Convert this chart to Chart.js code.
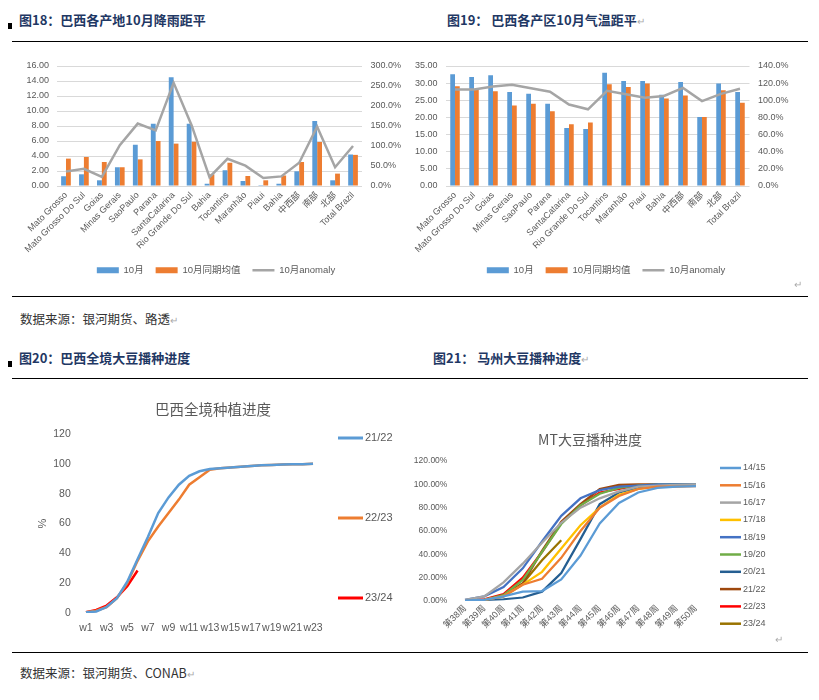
<!DOCTYPE html>
<html>
<head>
<meta charset="utf-8">
<script src="https://cdn.jsdelivr.net/npm/chart.js@4.4.0/dist/chart.umd.min.js"></script>
<style>
  body { margin: 0; width: 819px; height: 700px; background: #fff; position: relative; overflow: hidden; font-family: 'Noto Sans CJK SC', sans-serif; }
  .abs { position: absolute; white-space: nowrap; }
  .hd { font-size: 13px; font-weight: 700; color: #1F3864; line-height: 16px; }
  .src { font-size: 12.5px; color: #333; line-height: 16px; }
  .pm { color: #aaa; font-size: 10px; font-weight: 400; }
  .rule { position: absolute; left: 12px; width: 796px; height: 1px; background: #000; }
  .sq { position: absolute; left: 8px; width: 4px; height: 6px; background: #000; }
  canvas { position: absolute; }
</style>
</head>
<body>
<div class="sq" style="top:23px"></div>
<div class="abs hd" style="left:19px;top:12px">图18：巴西各产地10月降雨距平</div>
<div class="abs hd" style="left:447px;top:12px">图19： 巴西各产区10月气温距平<span class="pm">↵</span></div>
<div class="rule" style="top:41px"></div>

<canvas id="c18" width="410" height="235" style="left:0;top:50px"></canvas>
<canvas id="c19" width="392" height="235" style="left:410px;top:50px"></canvas>
<div class="abs pm" style="left:794px;top:276px">↵</div>

<div class="rule" style="top:296px"></div>
<div class="abs src" style="left:20px;top:311px">数据来源：银河期货、路透<span class="pm">↵</span></div>

<div class="sq" style="top:361px"></div>
<div class="abs hd" style="left:19px;top:350px">图20：巴西全境大豆播种进度</div>
<div class="abs hd" style="left:433px;top:350px">图21： 马州大豆播种进度<span class="pm">↵</span></div>
<div class="rule" style="top:378px"></div>

<canvas id="c20" width="405" height="260" style="left:0;top:390px"></canvas>
<canvas id="c21" width="380" height="228" style="left:410px;top:420px"></canvas>
<div class="abs pm" style="left:775px;top:631px">↵</div>

<div class="rule" style="top:652px"></div>
<div class="abs src" style="left:20px;top:665px">数据来源：银河期货、CONAB<span class="pm">↵</span></div>

<script>
// 图18 降雨 (mm), anomaly in %
const rainRegions = ['Mato Grosso', 'Mato Grosso Do Sul', 'Goias', 'Minas Gerais', 'SaoPaulo', 'Parana', 'SantaCatarina', 'Rio Grande Do Sul', 'Bahia', 'Tocantins', 'Maranhão', 'Piaui', 'Bahia', '中西部', '南部', '北部', 'Total Brazil'];
const rainOct = [1.3, 1.56, 0.76, 2.5, 5.5, 8.3, 14.5, 8.3, 0.3, 2.1, 0.67, 0.12, 0.3, 1.96, 8.67, 0.76, 4.2];
const rainAvg = [3.65, 3.87, 3.2, 2.5, 3.55, 6.0, 5.65, 5.9, 1.55, 3.1, 1.33, 0.76, 1.4, 3.2, 5.87, 1.65, 4.15];
const rainAnomaly = [36, 43, 23, 102, 156, 139, 258, 152, 22, 68, 51, 20, 24, 58, 148, 47, 100];

// 图19 气温
const tempRegions = ['Mato Grosso', 'Mato Grosso Do Sul', 'Goias', 'Minas Gerais', 'SaoPaulo', 'Parana', 'SantaCatarina', 'Rio Grande Do Sul', 'Tocantins', 'Maranhão', 'Piaui', 'Bahia', '中西部', '南部', '北部', 'Total Brazil'];
const tempOct = [32.6, 31.8, 32.3, 27.4, 26.9, 24.0, 16.9, 16.6, 33.0, 30.6, 30.6, 26.6, 30.3, 20.1, 29.9, 27.4];
const tempAvg = [29.1, 28.1, 27.6, 23.5, 24.0, 21.8, 18.0, 18.5, 29.7, 28.9, 29.9, 25.5, 26.4, 20.1, 27.9, 24.3];
const tempAnomaly = [112.5, 112.5, 116, 118, 114, 110, 95, 89.5, 111, 107, 103, 105, 114.5, 99, 107.5, 113.5];

// 图20 巴西全境种植进度 (%)
const brWeeks = ['w1', 'w2', 'w3', 'w4', 'w5', 'w6', 'w7', 'w8', 'w9', 'w10', 'w11', 'w12', 'w13', 'w14', 'w15', 'w16', 'w17', 'w18', 'w19', 'w20', 'w21', 'w22', 'w23'];
const br2122 = [0.5, 1, 4, 10, 21, 36, 51, 67, 77.5, 86, 92, 95, 96.5, 97, 97.5, 98, 98.5, 99, 99.2, 99.5, 99.7, 99.8, 100];
const br2223 = [0.5, 1.5, 4, 10, 20, 35, 48, 58, 67, 76, 86, 91, 96, 97, 97.5, 98, 98.5, 99, 99.3, 99.5, 99.7, 99.8, 100];
const br2324 = [0.5, 2, 5, 10.5, 18, 28.5];

// 图21 MT大豆播种进度 (%)
const mtWeeks = ['第38周', '第39周', '第40周', '第41周', '第42周', '第43周', '第44周', '第45周', '第46周', '第47周', '第48周', '第49周', '第50周'];
const mt1415 = [0.5, 1, 4, 8, 8.5, 18.5, 39, 66.5, 84, 93, 97, 98, 98.5];
const mt1516 = [0.5, 1, 4, 14, 19, 37, 60, 80, 90, 96, 98, 98, 98.5];
const mt1617 = [1, 4, 16, 32, 50, 67, 80, 88, 94, 98, 99, 99.5, 100];
const mt1718 = [0.5, 1, 4, 14, 25, 45, 65, 80, 91, 96, 98, 98.5, 99];
const mt1819 = [1, 4, 12, 28, 51, 73, 88, 95, 98, 99, 100, 100, 100];
const mt1920 = [0.5, 1, 5, 18, 42, 66, 82, 92, 97, 99, 100, 100, 100];
const mt2021 = [0.5, 1, 1.5, 3, 8, 24, 53, 83, 93, 97, 99, 100, 100];
const mt2122 = [0.5, 1, 5, 15, 43, 68, 83, 96, 99.5, 100, 100];
const mt2223 = [0.5, 1.5, 6, 20, 42, 67, 82, 93, 96, 99, 100];
const mt2324 = [0.5, 1, 4, 15, 35, 52];

const BLUE = '#5B9BD5', ORANGE = '#ED7D31', GREY = '#A5A5A5';
const TXT = '#595959';

Chart.defaults.font.family = "'Liberation Sans', 'Noto Sans CJK SC', sans-serif";
Chart.defaults.color = TXT;

// legend + title drawn at fixed spots, the way the Excel charts spread them out
const sideLegend = {
  id: 'sideLegend',
  afterDraw(chart, args, o) {
    const ctx = chart.ctx;
    ctx.save();
    ctx.textBaseline = 'middle';
    if (o.title) {
      ctx.font = o.titleSize + "px 'Noto Sans CJK SC', sans-serif";
      ctx.fillStyle = TXT;
      ctx.textAlign = 'center';
      ctx.fillText(o.title, o.titleX, o.titleY);
    }
    ctx.font = o.size + "px 'Liberation Sans', sans-serif";
    ctx.textAlign = 'left';
    chart.data.datasets.forEach((ds, i) => {
      const y = o.y + i * o.dy;
      ctx.strokeStyle = ds.borderColor;
      ctx.lineWidth = o.lineWidth;
      ctx.beginPath();
      ctx.moveTo(o.x, y);
      ctx.lineTo(o.x + o.len, y);
      ctx.stroke();
      ctx.fillStyle = TXT;
      ctx.fillText(ds.label, o.x + o.len + 2, y);
    });
    ctx.restore();
  }
};

// fixed axis sizes so the plot lands where the Excel one is
const fixW = w => (s => { s.width = w; });
const fixH = h => (s => { s.height = h; });

function comboChart(id, labels, oct, avg, anom, yMax, yStep, y1Max, y1Step, padL, yW, y1W, catPct) {
  return new Chart(document.getElementById(id), {
    type: 'bar',
    data: {
      labels: labels,
      datasets: [
        { label: '10月', data: oct, backgroundColor: BLUE, pointStyle: 'rect', order: 1, categoryPercentage: catPct, barPercentage: 1 },
        { label: '10月同期均值', data: avg, backgroundColor: ORANGE, pointStyle: 'rect', order: 1, categoryPercentage: catPct, barPercentage: 1 },
        { type: 'line', label: '10月anomaly', data: anom, yAxisID: 'y1', borderColor: GREY, backgroundColor: GREY,
          borderWidth: 2.5, pointRadius: 0, pointStyle: 'line', order: 0 }
      ]
    },
    options: {
      responsive: false,
      animation: false,
      layout: { padding: { left: padL, right: 0, top: 16, bottom: 0 } },
      plugins: {
        tooltip: { enabled: false },
        legend: {
          position: 'bottom',
          labels: {
            usePointStyle: true, pointStyleWidth: 22, boxHeight: 6, padding: 12,
            font: { size: 9.5 }, color: TXT,
            sort: (a, b) => a.datasetIndex - b.datasetIndex
          }
        }
      },
      scales: {
        x: {
          afterFit: fixH(67.5),
          grid: { display: false, drawTicks: false }, border: { display: false },
          ticks: { autoSkip: false, minRotation: 45, maxRotation: 45, font: { size: 9 }, padding: 4 }
        },
        y: {
          min: 0, max: yMax, afterFit: fixW(yW),
          grid: { color: '#D9D9D9', drawTicks: false }, border: { display: false },
          ticks: { autoSkip: false, stepSize: yStep, padding: 8, font: { size: 9 }, callback: v => v.toFixed(2) }
        },
        y1: {
          position: 'right', min: 0, max: y1Max, afterFit: fixW(y1W),
          grid: { display: false, drawTicks: false }, border: { display: false },
          ticks: { autoSkip: false, stepSize: y1Step, padding: 8.5, font: { size: 9 }, callback: v => v.toFixed(1) + '%' }
        }
      }
    }
  });
}

comboChart('c18', rainRegions, rainOct, rainAvg, rainAnomaly, 16, 2, 300, 50, 22, 35, 48, 0.54);
comboChart('c19', tempRegions, tempOct, tempAvg, tempAnomaly, 35, 5, 140, 20, 0, 35.5, 52.5, 0.5);

new Chart(document.getElementById('c20'), {
  type: 'line',
  data: {
    labels: brWeeks,
    datasets: [
      { label: '21/22', data: br2122, borderColor: BLUE },
      { label: '22/23', data: br2223, borderColor: ORANGE },
      { label: '23/24', data: br2324, borderColor: '#FF0000' }
    ]
  },
  options: {
    responsive: false,
    animation: false,
    elements: { line: { borderWidth: 2.5, tension: 0 }, point: { radius: 0 } },
    layout: { padding: { left: 32, right: 86.8, top: 44, bottom: 16 } },
    plugins: {
      tooltip: { enabled: false },
      legend: { display: false },
      sideLegend: { title: '巴西全境种植进度', titleSize: 14.5, titleX: 213, titleY: 19,
                    x: 338, y: 48, dy: 80, len: 25, lineWidth: 3, size: 11 }
    },
    scales: {
      x: {
        offset: true, afterFit: fixH(21),
        grid: { display: false, drawTicks: false }, border: { display: false },
        ticks: { autoSkip: false, maxRotation: 0, padding: 8.5, font: { size: 10.5 },
                 callback: (v, i) => i % 2 === 0 ? brWeeks[i] : '' }
      },
      y: {
        min: 0, max: 120, afterFit: fixW(48.8),
        grid: { display: false, drawTicks: false }, border: { display: false },
        title: { display: true, text: '%', font: { size: 11 }, padding: 4 },
        ticks: { autoSkip: false, stepSize: 20, padding: 10, font: { size: 10.5 } }
      }
    }
  },
  plugins: [sideLegend]
});

new Chart(document.getElementById('c21'), {
  type: 'line',
  data: {
    labels: mtWeeks,
    datasets: [
      { label: '14/15', data: mt1415, borderColor: '#5B9BD5' },
      { label: '15/16', data: mt1516, borderColor: '#ED7D31' },
      { label: '16/17', data: mt1617, borderColor: '#A5A5A5' },
      { label: '17/18', data: mt1718, borderColor: '#FFC000' },
      { label: '18/19', data: mt1819, borderColor: '#4472C4' },
      { label: '19/20', data: mt1920, borderColor: '#70AD47' },
      { label: '20/21', data: mt2021, borderColor: '#255E91' },
      { label: '21/22', data: mt2122, borderColor: '#9E480E' },
      { label: '22/23', data: mt2223, borderColor: '#FF0000' },
      { label: '23/24', data: mt2324, borderColor: '#997300' }
    ]
  },
  options: {
    responsive: false,
    animation: false,
    elements: { line: { borderWidth: 2.25, tension: 0 }, point: { radius: 0 } },
    layout: { padding: { left: 0, right: 84.4, top: 41, bottom: 17 } },
    plugins: {
      tooltip: { enabled: false },
      legend: { display: false },
      sideLegend: { title: 'MT大豆播种进度', titleSize: 14, titleX: 180, titleY: 20,
                    x: 310, y: 48, dy: 17.3, len: 21, lineWidth: 2.5, size: 9 }
    },
    scales: {
      x: {
        offset: true, afterFit: fixH(30),
        grid: { display: false, drawTicks: false }, border: { display: false },
        ticks: { autoSkip: false, minRotation: 45, maxRotation: 45, padding: 2, font: { size: 9 } }
      },
      y: {
        min: 0, max: 120, afterFit: fixW(45.4),
        grid: { display: false, drawTicks: false }, border: { display: false },
        ticks: { autoSkip: false, stepSize: 20, padding: 8, font: { size: 8.5 }, callback: v => v.toFixed(2) + '%' }
      }
    }
  },
  plugins: [sideLegend]
});
</script>
</body>
</html>
